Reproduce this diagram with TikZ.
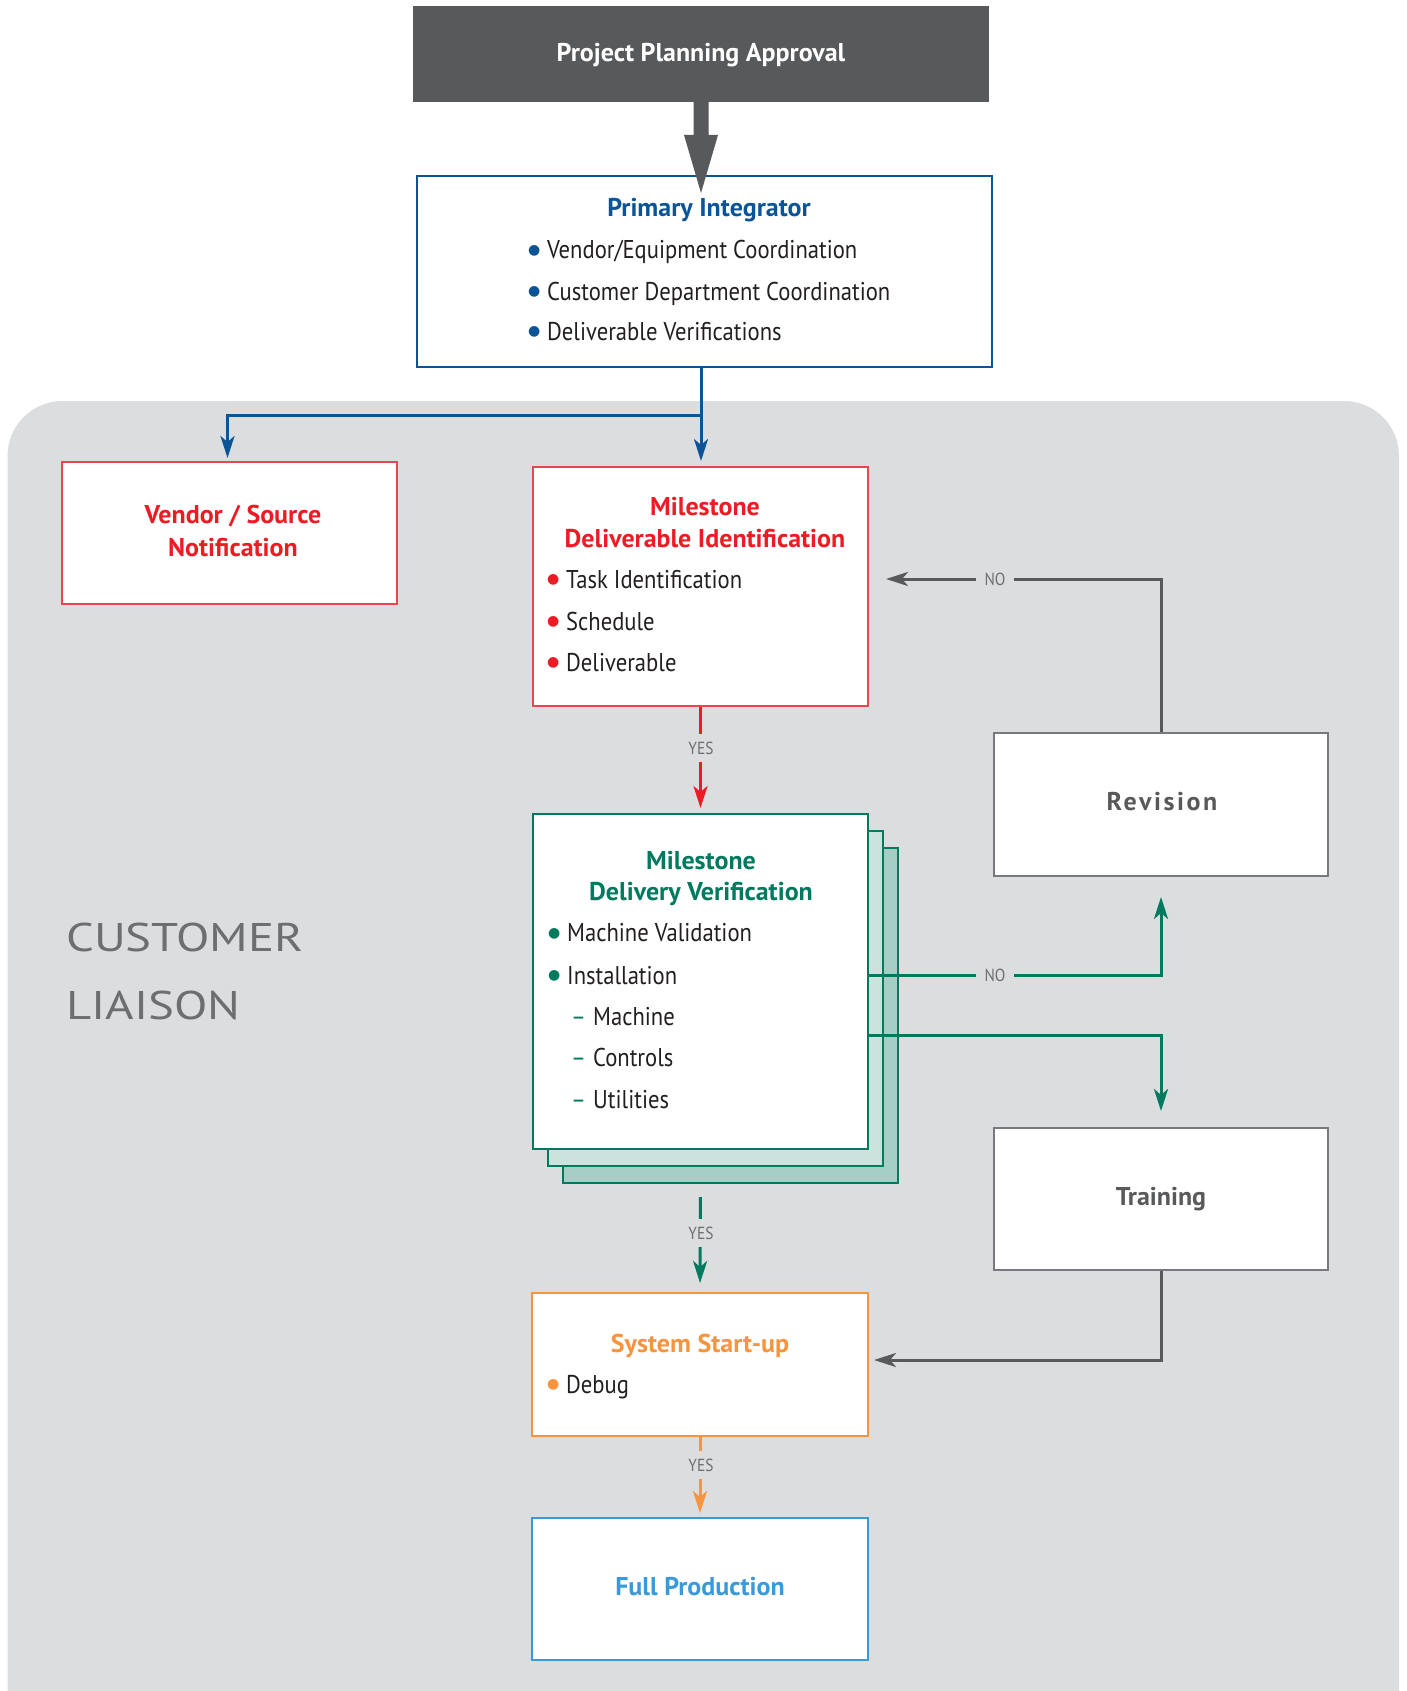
\documentclass[tikz,border=0pt]{standalone}
\usepackage{fontspec}
\setmainfont{PT Sans}[FakeStretch=0.88, BoldFeatures={FakeStretch=1.01}]
\newfontfamily\widefont{PT Sans}[FakeStretch=1.22]
\newfontfamily\symfont{DejaVu Sans}
\usetikzlibrary{arrows.meta,calc}
\definecolor{bg}{RGB}{220,221,223}
\definecolor{darkbox}{RGB}{88,89,91}
\definecolor{pblue}{RGB}{12,84,150}
\definecolor{pred}{RGB}{237,28,36}
\definecolor{redline}{RGB}{232,70,80}
\definecolor{pgreen}{RGB}{0,122,94}
\definecolor{greentwo}{RGB}{204,227,221}
\definecolor{greenthree}{RGB}{165,207,196}
\definecolor{porange}{RGB}{247,148,61}
\definecolor{lblue}{RGB}{58,154,217}
\definecolor{gtext}{RGB}{109,110,113}
\definecolor{darkarrow}{RGB}{88,89,91}
\definecolor{bodytext}{RGB}{35,31,32}
\definecolor{boxgray}{RGB}{120,121,124}
\newcommand{\bul}[1]{\makebox[19pt][l]{\raisebox{4.5pt}{\textcolor{#1}{\symfont\fontsize{14}{14}\selectfont ●}}}}
\begin{document}
\begin{tikzpicture}[x=1pt,y=-1pt,
  box/.style 2 args={draw, fill=white, line width=2pt, inner sep=0pt, minimum width=#1pt, minimum height=#2pt},
  ttl/.style={inner sep=0pt, text height=18pt, text depth=0pt, font=\fontsize{25.7}{30}\selectfont\bfseries},
  body/.style={inner sep=0pt, anchor=west, text height=18pt, text depth=0pt, font=\fontsize{25.7}{30}\selectfont, text=bodytext},
  lbl/.style={inner xsep=9pt, inner ysep=5pt, fill=bg, text=gtext, text height=12pt, text depth=0pt, font=\fontsize{17.5}{20}\selectfont},
  conn/.style={line width=3pt, -{Stealth[length=22pt, width=14pt, inset=6pt]}},
  plain/.style={line width=3pt}
]
\useasboundingbox (0,0) rectangle (1406,1691);
\fill[white] (0,0) rectangle (1406,1691);
% gray region
\fill[bg, rounded corners=55pt] (7.5,401) rectangle (1399,1760);
\node[anchor=west, inner sep=0pt, text height=28pt, text depth=0pt, text=gtext, font=\widefont\fontsize{40}{46}\selectfont] (cust) at (66,937) {CUSTOMER};
\node[anchor=west, inner sep=0pt, text height=28pt, text depth=0pt, text=gtext, font=\widefont\fontsize{40}{46}\selectfont] (liai) at (66,1005) {LIAISON};

% top box
\node[box={576}{96}, draw=none, fill=darkbox] (top) at (701,54) {};
\node[ttl, text=white] (toptxt) at (701,53) {Project Planning Approval};
% primary integrator
\node[box={575}{191}, draw=pblue] (prim) at (704.5,271.5) {};
\node[ttl, text=pblue] (primt) at (709,207) {Primary Integrator};
\node[body] (p1) at (528,249.5) {\bul{pblue}Vendor/Equipment Coordination};
\node[body] (p2) at (528,291) {\bul{pblue}Customer Department Coordination};
\node[body] (p3) at (528,331) {\bul{pblue}Deliverable Verifications};
% thick arrow
\fill[darkbox] (693.5,101) -- (708.5,101) -- (708.5,135) -- (718,135) -- (701,193) -- (684,135) -- (693.5,135) -- cycle;

% vendor
\node[box={335}{142}, draw=redline] (vend) at (229,533) {};
\node[ttl, text=pred] (vend1) at (233,514) {Vendor / Source};
\node[ttl, text=pred] (vend2) at (233,547) {Notification};
% milestone deliverable
\node[box={335}{239}, draw=redline] (mdi) at (700.5,586.5) {};
\node[ttl, text=pred] (mdi1) at (705,506) {Milestone};
\node[ttl, text=pred] (mdi2) at (705,538) {Deliverable Identification};
\node[body] (m1) at (547,579) {\bul{pred}Task Identification};
\node[body] (m2) at (547,621) {\bul{pred}Schedule};
\node[body] (m3) at (547,662) {\bul{pred}Deliverable};

% green stack
\node[box={335}{335}, draw=pgreen, fill=greenthree] (gv3) at (730.5,1015.5) {};
\node[box={335}{335}, draw=pgreen, fill=greentwo] (gv2) at (715.5,998.5) {};
\node[box={335}{335}, draw=pgreen] (gv) at (700.5,981.5) {};
\node[ttl, text=pgreen] (gv1t) at (701,860) {Milestone};
\node[ttl, text=pgreen] (gv2t) at (701,891.5) {Delivery Verification};
\node[body] (g1) at (548,932.5) {\bul{pgreen}Machine Validation};
\node[body] (g2) at (548,975) {\bul{pgreen}Installation};
\node[body] (g3) at (571,1016) {\makebox[22pt][l]{\textcolor{pgreen}{–}}Machine};
\node[body] (g4) at (571,1057.5) {\makebox[22pt][l]{\textcolor{pgreen}{–}}Controls};
\node[body] (g5) at (571,1099.5) {\makebox[22pt][l]{\textcolor{pgreen}{–}}Utilities};

% revision, training
\node[box={334}{143}, draw=boxgray] (rev) at (1161,804.5) {};
\node[ttl, text=darkarrow, font=\fontsize{25.7}{30}\selectfont\bfseries\addfontfeatures{LetterSpace=10}] (revt) at (1162,801.5) {Revision};
\node[box={334}{142}, draw=boxgray] (train) at (1161,1199) {};
\node[ttl, text=darkarrow] (traint) at (1161,1196.5) {Training};

% system start-up, full production
\node[box={336}{143}, draw=porange] (sys) at (700,1364.5) {};
\node[ttl, text=porange] (syst) at (700,1343) {System Start-up};
\node[body] (s1) at (547,1384) {\bul{porange}Debug};
\node[box={336}{142}, draw=lblue] (full) at (700,1589) {};
\node[ttl, text=lblue] (fullt) at (700,1586.5) {Full Production};

% connectors
\coordinate (bsplit) at (701,415);
\draw[plain, pblue] (prim.south -| bsplit) -- (bsplit);
\draw[conn, pblue, shorten >=3pt] (bsplit) -| (vend.north -| 227.5,0);
\draw[conn, pblue, shorten >=5pt] (bsplit) -- (mdi.north -| bsplit);

\draw[conn, darkarrow, shorten >=17pt] (rev.north) |- ([yshift=7.5pt]mdi.east);
\draw[conn, pred, shorten >=5pt] (mdi.south) -- (gv.north);
\draw[conn, pgreen, shorten >=20pt] ([yshift=6.5pt]gv.east) -| (rev.south);
\draw[conn, pgreen, shorten >=16pt] ([yshift=-53.5pt]gv.east) -| (train.north);
\draw[conn, pgreen, shorten <=47pt, shorten >=9pt] (gv.south) -- (sys.north);
\draw[conn, darkarrow, shorten >=5pt] (train.south) |- ([yshift=4.5pt]sys.east);
\draw[conn, porange, shorten >=4pt] (sys.south) -- (full.north);

% labels
\node[lbl] (no1) at (995,579) {NO};
\node[lbl] (no2) at (995,975) {NO};
\node[lbl, inner xsep=4pt, inner ysep=8pt] (yes1) at (701,748) {YES};
\node[lbl, inner xsep=4pt, inner ysep=8pt] (yes2) at (701,1233) {YES};
\node[lbl, inner xsep=4pt, inner ysep=8pt] (yes3) at (701,1465) {YES};
\end{tikzpicture}
\end{document}
